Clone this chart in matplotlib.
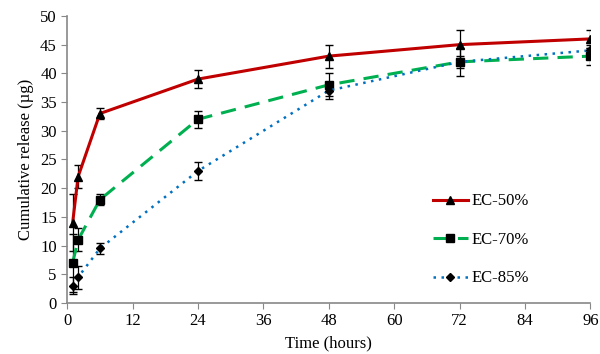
import matplotlib
matplotlib.use("Agg")
import matplotlib.pyplot as plt

plt.rcParams['font.family'] = ['Liberation Serif', 'DejaVu Serif']

time = [1, 2, 6, 24, 48, 72, 96]
ec50 = [14, 22, 33, 39, 43, 45, 46]
ec50_err = [5, 2, 1, 1.5, 2, 2.5, 1.5]
ec70 = [7, 11, 18, 32, 38, 42, 43]
ec70_err = [5, 2, 1, 1.5, 2, 2.5, 1.5]
ec85 = [3, 4.5, 9.5, 23, 37, 42, 44]
ec85_err = [1.5, 2, 1, 1.5, 1.5, 1, 1]
xticks = [0, 12, 24, 36, 48, 60, 72, 84, 96]
yticks = [0, 5, 10, 15, 20, 25, 30, 35, 40, 45, 50]

fig = plt.figure(figsize=(6.0, 3.54), dpi=100)
ax = fig.add_axes([0.112, 0.144, 0.872, 0.811])

c1 = ax.errorbar(time, ec50, yerr=ec50_err, color='#c00000', lw=2.2, marker='^', ms=6,
                 mfc='black', mec='black', ecolor='black', elinewidth=0.9, capsize=3,
                 label='EC-50%', zorder=3)
c2 = ax.errorbar(time, ec70, yerr=ec70_err, color='#00b050', lw=2.2, ls=(0, (5, 3)), marker='s', ms=6,
                 mfc='black', mec='black', ecolor='black', elinewidth=0.9, capsize=3,
                 label='EC-70%', zorder=3)
c3 = ax.errorbar(time, ec85, yerr=ec85_err, color='#0070c0', lw=1.8, ls=(0, (1, 2.2)), marker='D', ms=4.5,
                 mfc='black', mec='black', ecolor='black', elinewidth=0.9, capsize=3,
                 label='EC-85%', zorder=3)

ax.set_xlim(0, 96)
ax.set_ylim(0, 50)
ax.set_xticks(xticks)
ax.set_yticks(yticks)
for s in ['top', 'right']:
    ax.spines[s].set_visible(False)
for s in ['left', 'bottom']:
    ax.spines[s].set_color('#888888')
    ax.spines[s].set_linewidth(1.2)
ax.tick_params(axis='both', colors='#888888', labelcolor='black', labelsize=12, length=4)
ax.set_xlabel('Time (hours)', fontsize=12)
ax.set_ylabel('Cumulative release (µg)', fontsize=12)

handles = [c1.lines[0], c2.lines[0], c3.lines[0]]
labels = ['EC-50%', 'EC-70%', 'EC-85%']
ax.legend(handles, labels, loc='center left', bbox_to_anchor=(0.67, 0.22), frameon=False, fontsize=12,
          labelspacing=1.35, handlelength=2.1, handletextpad=0.2)

fig.savefig('out.png', dpi=100)
